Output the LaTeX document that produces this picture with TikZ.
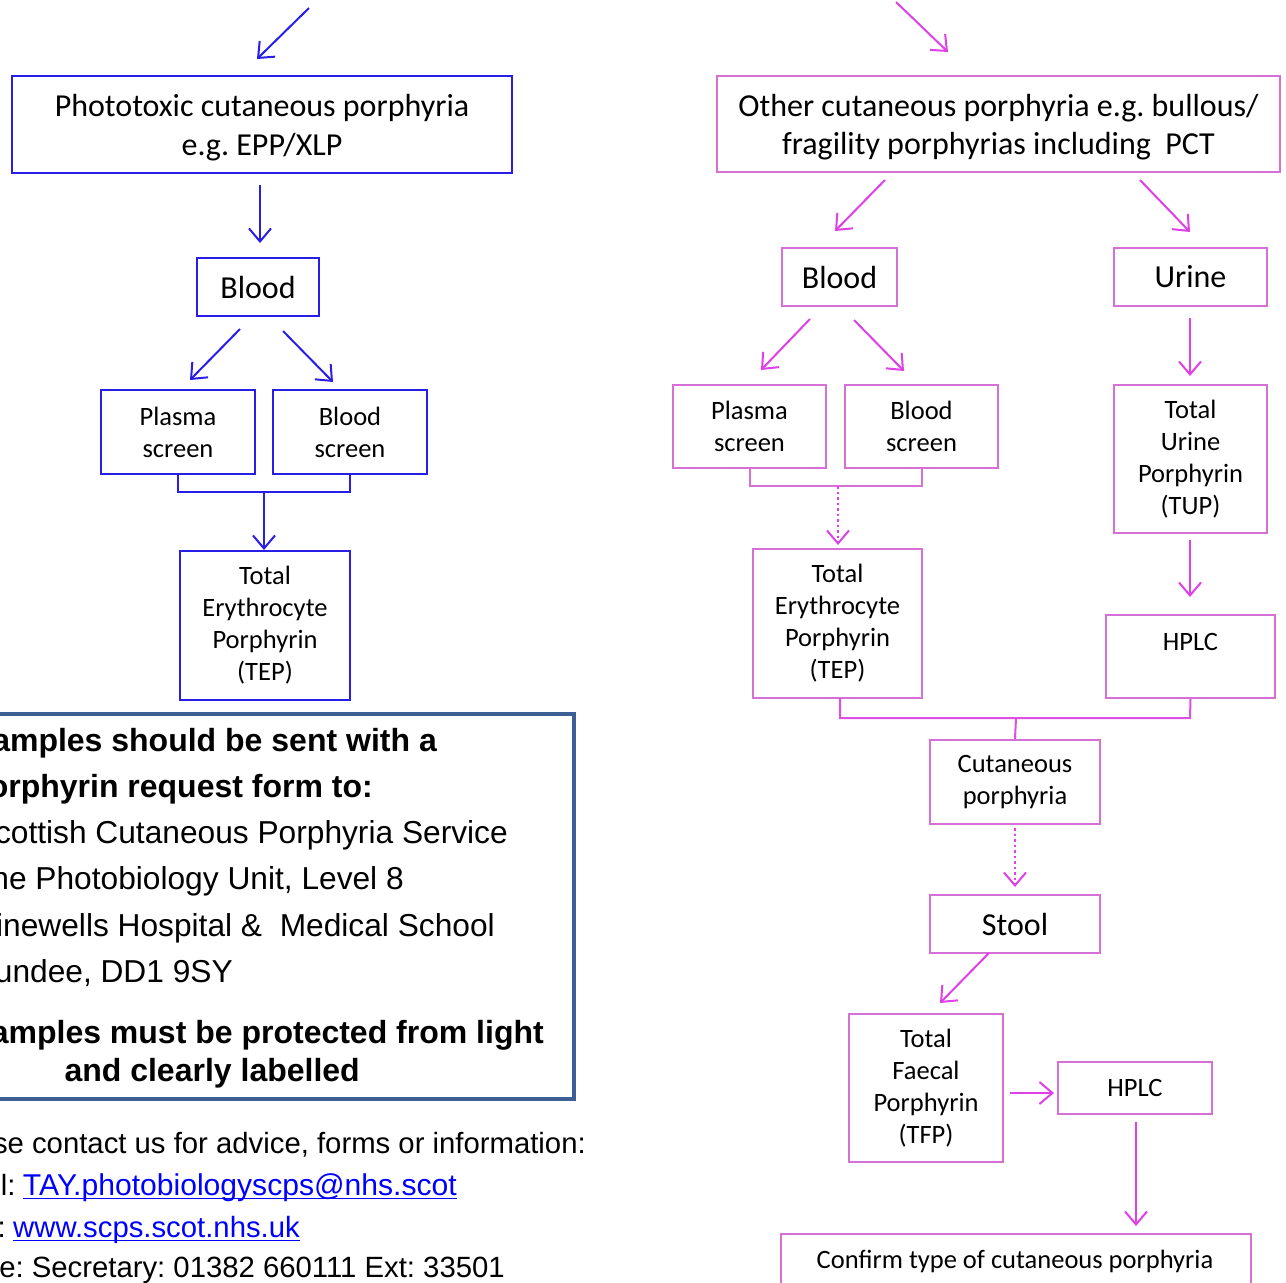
\documentclass[tikz,border=0pt]{standalone}
\usepackage{fontspec}
\setmainfont{Carlito}
\newfontfamily\arialf{Liberation Sans}
\usetikzlibrary{arrows.meta}
\definecolor{lblue}{RGB}{40,30,230}
\definecolor{pinkbox}{RGB}{214,112,214}
\definecolor{magarrow}{RGB}{224,64,232}
\definecolor{infoblue}{RGB}{60,95,148}
\definecolor{linkblue}{RGB}{0,0,255}
\frenchspacing
\begin{document}
\begin{tikzpicture}[x=1pt,y=-1pt,
  bbox/.style={draw=lblue,line width=2pt,inner sep=0pt,align=center},
  pbox/.style={draw=pinkbox,line width=2pt,inner sep=0pt,align=center},
  ftitle/.style={font=\fontsize{32}{38.5}\selectfont},
  fsmall/.style={font=\fontsize{26.5}{32}\selectfont},
  barrow/.style={draw=lblue,line width=2pt,-{Straight Barb[length=13pt,width=22pt]}},
  parrow/.style={draw=magarrow,line width=2pt,-{Straight Barb[length=13pt,width=22pt]}},
  pdots/.style={draw=magarrow,line width=2.5pt,dash pattern=on 2.5pt off 3pt,-{Straight Barb[length=13pt,width=22pt,line width=2pt]}},
  infob/.style={font=\arialf\bfseries\fontsize{32}{38}\selectfont,anchor=base east,inner sep=0pt},
  infor/.style={font=\arialf\fontsize{31.7}{38}\selectfont,anchor=base east,inner sep=0pt},
  infos/.style={font=\arialf\fontsize{29.3}{36}\selectfont,anchor=base east,inner sep=0pt}
]
\useasboundingbox (0,0) rectangle (1286,1283);
\clip (0,0) rectangle (1286,1283);
\fill[white] (0,0) rectangle (1286,1283);

% ---------------- left branch ----------------
\node[bbox,minimum width=500,minimum height=97] (photo) at (262,124.5) {};
\node[ftitle,align=center,inner sep=0pt] (photot) at (262,127.5) {Phototoxic cutaneous porphyria\\e.g. EPP/XLP};
\node[bbox,ftitle,minimum width=122,minimum height=58] (lblood) at (258,287) {Blood};
\node[bbox,fsmall,minimum width=154,minimum height=84] (lplasma) at (178,432) {Plasma\\screen};
\node[bbox,fsmall,minimum width=154,minimum height=84] (lbscreen) at (350,432) {Blood\\screen};
\node[bbox,fsmall,minimum width=170,minimum height=149] (ltep) at (265,625.5) {Total\\Erythrocyte\\Porphyrin\\(TEP)};

\coordinate (la0) at (309,8);     \coordinate (la1) at (257,59);
\coordinate (lb0) at (260,185);   \coordinate (lb1) at (260,243);
\coordinate (lc0) at (240,329);   \coordinate (lc1) at (190,380);
\coordinate (ld0) at (283,331);   \coordinate (ld1) at (333,382);
\coordinate (lbr) at (264,492);   \coordinate (le1) at (264,550);

\draw[barrow] (la0) -- (la1);
\draw[barrow] (lb0) -- (lb1);
\draw[barrow] (lc0) -- (lc1);
\draw[barrow] (ld0) -- (ld1);
\draw[lblue,line width=2pt] (lplasma.south) -- (178,492) -- (350,492) -- (lbscreen.south);
\draw[barrow] (lbr) -- (le1);

% ---------------- info box ----------------
\node[draw=infoblue,line width=4pt,inner sep=0pt,minimum width=674,minimum height=385] (info) at (237,906.5) {};
\node[infob] (i1) at (437,751.5) {Samples should be sent with a};
\node[infob] (i2) at (373,797) {porphyrin request form to:};
\node[infor] (i3) at (508,843) {Scottish Cutaneous Porphyria Service};
\node[infor] (i4) at (404,889.5) {The Photobiology Unit, Level 8};
\node[infor] (i5) at (495,936) {Ninewells Hospital \&\ \ Medical School};
\node[infor] (i6) at (233,982) {Dundee, DD1 9SY};
\node[infob] (i7) at (544,1043) {Samples must be protected from light};
\node[infob] (i8) at (360,1081) {and clearly labelled};

\node[infos] (c1) at (586,1153) {Please contact us for advice, forms or information:};
\node[infos,font=\arialf\fontsize{30.1}{36}\selectfont,text=linkblue] (email) at (457,1195) {TAY.photobiologyscps@nhs.scot};
\node[infos] (c2) at ([xshift=-7pt]email.base west) {Email:};
\draw[linkblue,line width=1.6pt] ([yshift=-3.5pt]email.base west) -- ([yshift=-3.5pt]email.base east);
\node[infos,text=linkblue] (web) at (300,1237) {www.scps.scot.nhs.uk};
\node[infos] (c3) at ([xshift=-7pt]web.base west) {Web:};
\draw[linkblue,line width=1.6pt] ([yshift=-3.5pt]web.base west) -- ([yshift=-3.5pt]web.base east);
\node[infos] (c4) at (505,1277) {Phone: Secretary: 01382 660111 Ext: 33501};

% ---------------- right branch ----------------
\node[pbox,minimum width=563,minimum height=96] (other) at (998.5,124) {};
\node[ftitle,align=center,inner sep=0pt] (othert) at (998.5,127) {Other cutaneous porphyria e.g. bullous/\\fragility porphyrias including\ \ PCT};
\node[pbox,ftitle,minimum width=115,minimum height=58] (rblood) at (839.5,277) {Blood};
\node[pbox,ftitle,minimum width=153,minimum height=58] (urine) at (1190.5,277) {Urine};
\node[pbox,fsmall,minimum width=153,minimum height=83] (rplasma) at (749.5,426.5) {Plasma\\screen};
\node[pbox,fsmall,minimum width=153,minimum height=83] (rbscreen) at (921.5,426.5) {Blood\\screen};
\node[pbox,fsmall,minimum width=169,minimum height=149] (rtep) at (837.5,623.5) {Total\\Erythrocyte\\Porphyrin\\(TEP)};
\node[pbox,fsmall,minimum width=153,minimum height=148] (tup) at (1190.5,459) {Total\\Urine\\Porphyrin\\(TUP)};
\node[pbox,minimum width=169,minimum height=83] (hplc1) at (1190.5,656.5) {};
\node[fsmall,inner sep=0pt] (hplc1t) at (1190.5,642) {HPLC};
\node[pbox,fsmall,minimum width=170,minimum height=84] (cut) at (1015,782) {Cutaneous\\porphyria};
\node[pbox,ftitle,minimum width=170,minimum height=58] (stool) at (1015,924) {Stool};
\node[pbox,fsmall,minimum width=154,minimum height=148] (tfp) at (926,1088) {Total\\Faecal\\Porphyrin\\(TFP)};
\node[pbox,fsmall,minimum width=154,minimum height=52] (hplc2) at (1135,1088) {HPLC};
\node[pbox,minimum width=470,minimum height=86] (confirm) at (1016,1277) {};
\node[fsmall,inner sep=0pt] (confirmt) at (1015,1261) {Confirm type of cutaneous porphyria};

\coordinate (ra0) at (896,2);      \coordinate (ra1) at (948,52);
\coordinate (rb0) at (885,180);    \coordinate (rb1) at (835,231);
\coordinate (rc0) at (1140,180);   \coordinate (rc1) at (1190,232);
\coordinate (rd0) at (810,319);    \coordinate (rd1) at (761,370);
\coordinate (re0) at (854,320);    \coordinate (re1) at (904,371);
\coordinate (rf0) at (1190,318);   \coordinate (rf1) at (1190,376);
\coordinate (rbr) at (838,486);    \coordinate (rg1) at (838,545);
\coordinate (rh0) at (1190,540);   \coordinate (rh1) at (1190,597);
\coordinate (rmid) at (1016,718);
\coordinate (ri0) at (1015,828);   \coordinate (ri1) at (1015,887);
\coordinate (rj0) at (989,953);    \coordinate (rj1) at (940,1003);
\coordinate (rk0) at (1010,1093);  \coordinate (rk1) at (1054,1093);
\coordinate (rl0) at (1136,1122);  \coordinate (rl1) at (1136,1226);

\draw[parrow] (ra0) -- (ra1);
\draw[parrow] (rb0) -- (rb1);
\draw[parrow] (rc0) -- (rc1);
\draw[parrow] (rd0) -- (rd1);
\draw[parrow] (re0) -- (re1);
\draw[parrow] (rf0) -- (rf1);
\draw[pinkbox,line width=2pt] (rplasma.south) -- (749.5,486) -- (921.5,486) -- (rbscreen.south);
\draw[pdots] (rbr) -- (rg1);
\draw[parrow] (rh0) -- (rh1);
\draw[magarrow!70!pinkbox,line width=2pt] (840,698) -- (840,718) -- (1190,718) -- (hplc1.south);
\draw[magarrow!70!pinkbox,line width=2pt] (rmid) -- (cut.north);
\draw[pdots] (ri0) -- (ri1);
\draw[parrow] (rj0) -- (rj1);
\draw[parrow] (rk0) -- (rk1);
\draw[parrow] (rl0) -- (rl1);
\end{tikzpicture}
\end{document}
